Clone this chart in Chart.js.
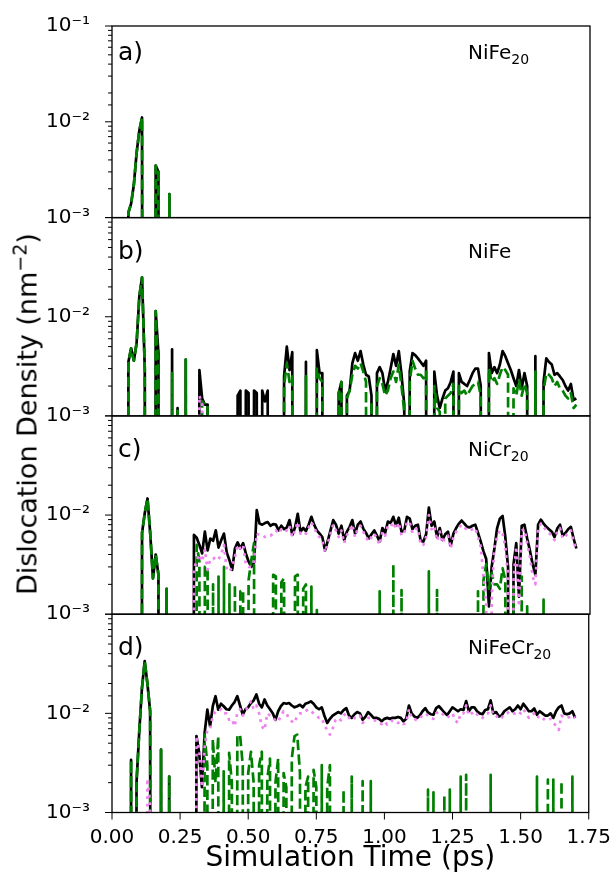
<!DOCTYPE html>
<html>
<head>
<meta charset="utf-8">
<script src="https://cdn.jsdelivr.net/npm/chart.js@4.4.1/dist/chart.umd.min.js"></script>
<style>
  body { margin: 0; background: #fff; }
  #wrap { position: relative; width: 616px; height: 877px; font-family: "DejaVu Sans", sans-serif; color: #000; }
  canvas { position: absolute; left: 0; top: 0; }
  .tag { position: absolute; left: 118px; font-size: 25px; line-height: 25px; }
  .mat { position: absolute; left: 468px; font-size: 20px; line-height: 20px; white-space: nowrap; }
  .mat sub { font-size: 14px; vertical-align: -5px; line-height: 0; }
  #ytitle { position: absolute; left: 27px; top: 414px; font-size: 27px; line-height: 27px; white-space: nowrap;
            transform: translate(-50%, -50%) rotate(-90deg); }
  #ytitle sup { font-size: 19px; vertical-align: 10px; line-height: 0; }
</style>
</head>
<body>
<div id="wrap">
  <canvas id="c0" width="616" height="877"></canvas>
  <canvas id="c1" width="616" height="877"></canvas>
  <canvas id="c2" width="616" height="877"></canvas>
  <canvas id="c3" width="616" height="877"></canvas>
  <div class="tag" style="top:39px">a)</div>
  <div class="tag" style="top:238px">b)</div>
  <div class="tag" style="top:436px">c)</div>
  <div class="tag" style="top:634px">d)</div>
  <div class="mat" style="top:42px">NiFe<sub>20</sub></div>
  <div class="mat" style="top:241px">NiFe</div>
  <div class="mat" style="top:439px">NiCr<sub>20</sub></div>
  <div class="mat" style="top:637px">NiFeCr<sub>20</sub></div>
  <div id="ytitle">Dislocation Density (nm<sup>−2</sup>)</div>
</div>
<script>
// dislocation density per frame, in units of 1e-3 nm^-2, one frame every 0.01 ps (0.00 .. 1.70)
// black = total, green dashed = Shockley partials, violet dotted = stair-rod
const T_STEP = 0.01;

const nife20Total = [
/*0.00*/ 0,0,0,0,0,0,1.13,1.4,2.2,4.7,
/*0.10*/ 8.1,11.1,0,0,0,0,3.5,3.0,0,0,
/*0.20*/ 0,1.76,0,0,0,0,0,0,0,0,
/*0.30*/ 0,0,0,0,0,0,0,0,0,0,
/*0.40*/ 0,0,0,0,0,0,0,0,0,0,
/*0.50*/ 0,0,0,0,0,0,0,0,0,0,
/*0.60*/ 0,0,0,0,0,0,0,0,0,0,
/*0.70*/ 0,0,0,0,0,0,0,0,0,0,
/*0.80*/ 0,0,0,0,0,0,0,0,0,0,
/*0.90*/ 0,0,0,0,0,0,0,0,0,0,
/*1.00*/ 0,0,0,0,0,0,0,0,0,0,
/*1.10*/ 0,0,0,0,0,0,0,0,0,0,
/*1.20*/ 0,0,0,0,0,0,0,0,0,0,
/*1.30*/ 0,0,0,0,0,0,0,0,0,0,
/*1.40*/ 0,0,0,0,0,0,0,0,0,0,
/*1.50*/ 0,0,0,0,0,0,0,0,0,0,
/*1.60*/ 0,0,0,0,0,0,0,0,0,0,
/*1.70*/ 0
];
const nife20Shockley = [
/*0.00*/ 0,0,0,0,0,0,1.13,1.4,2.2,4.7,
/*0.10*/ 8.1,11.1,0,0,0,0,3.5,3.0,0,0,
/*0.20*/ 0,1.76,0,0,0,0,0,0,0,0,
/*0.30*/ 0,0,0,0,0,0,0,0,0,0,
/*0.40*/ 0,0,0,0,0,0,0,0,0,0,
/*0.50*/ 0,0,0,0,0,0,0,0,0,0,
/*0.60*/ 0,0,0,0,0,0,0,0,0,0,
/*0.70*/ 0,0,0,0,0,0,0,0,0,0,
/*0.80*/ 0,0,0,0,0,0,0,0,0,0,
/*0.90*/ 0,0,0,0,0,0,0,0,0,0,
/*1.00*/ 0,0,0,0,0,0,0,0,0,0,
/*1.10*/ 0,0,0,0,0,0,0,0,0,0,
/*1.20*/ 0,0,0,0,0,0,0,0,0,0,
/*1.30*/ 0,0,0,0,0,0,0,0,0,0,
/*1.40*/ 0,0,0,0,0,0,0,0,0,0,
/*1.50*/ 0,0,0,0,0,0,0,0,0,0,
/*1.60*/ 0,0,0,0,0,0,0,0,0,0,
/*1.70*/ 0
];
const nife20StairRod = [
/*0.00*/ 0,0,0,0,0,0,0,0,0,0,
/*0.10*/ 0,0,0,0,0,0,0,0,0,0,
/*0.20*/ 0,0,0,0,0,0,0,0,0,0,
/*0.30*/ 0,0,0,0,0,0,0,0,0,0,
/*0.40*/ 0,0,0,0,0,0,0,0,0,0,
/*0.50*/ 0,0,0,0,0,0,0,0,0,0,
/*0.60*/ 0,0,0,0,0,0,0,0,0,0,
/*0.70*/ 0,0,0,0,0,0,0,0,0,0,
/*0.80*/ 0,0,0,0,0,0,0,0,0,0,
/*0.90*/ 0,0,0,0,0,0,0,0,0,0,
/*1.00*/ 0,0,0,0,0,0,0,0,0,0,
/*1.10*/ 0,0,0,0,0,0,0,0,0,0,
/*1.20*/ 0,0,0,0,0,0,0,0,0,0,
/*1.30*/ 0,0,0,0,0,0,0,0,0,0,
/*1.40*/ 0,0,0,0,0,0,0,0,0,0,
/*1.50*/ 0,0,0,0,0,0,0,0,0,0,
/*1.60*/ 0,0,0,0,0,0,0,0,0,0,
/*1.70*/ 0
];

const nifeTotal = [
/*0.00*/ 0,0,0,0,0,0,3.5,4.8,3.6,5.4,
/*0.10*/ 16,25,3.0,0,0,0,11.4,4.3,0,0,
/*0.20*/ 0,0,4.7,0,1.2,0,0,3.7,0,0,
/*0.30*/ 0,0,2.9,1.5,1.3,1.3,0,0,0,0,
/*0.40*/ 0,0,0,0,0,0,1.6,1.8,0,1.8,
/*0.50*/ 1.7,0,1.8,1.7,0,1.8,1.4,1.8,0,0,
/*0.60*/ 0,0,0,2.5,5.0,2.9,4.4,0,0,0,
/*0.70*/ 0,3.5,0,0,0,4.6,2.7,2.7,0,0,
/*0.80*/ 0,0,0,1.7,2.2,0,1.6,1.8,3.4,4.3,
/*0.90*/ 3.6,4.5,3.3,2.6,2.5,1.6,0,2.7,3.1,2.7,
/*1.00*/ 1.8,2.2,3.0,4.2,3.2,4.5,2.6,1.3,0,2.8,
/*1.10*/ 4.3,4.1,3.8,3.5,3.2,3.6,0,0,2.8,1.6,
/*1.20*/ 1.2,1.5,1.8,1.9,2.2,2.8,0,2.7,2.2,2.1,
/*1.30*/ 2.0,2.3,2.7,3.0,3.0,2.0,0,0,4.3,2.7,
/*1.40*/ 3.1,2.7,3.3,4.5,4.0,3.4,2.9,2.4,2.0,2.9,
/*1.50*/ 1.9,2.7,2.0,0,0,4.0,0,0,2.2,3.8,
/*1.60*/ 3.5,3.3,2.6,2.7,2.5,2.3,2.0,1.8,2.1,1.45,
/*1.70*/ 1.5
];
const nifeShockley = [
/*0.00*/ 0,0,0,0,0,0,3.5,4.8,3.6,5.4,
/*0.10*/ 16,25,3.0,0,0,0,11.4,2.5,0,0,
/*0.20*/ 0,0,2.7,0,1.2,0,0,3.7,0,0,
/*0.30*/ 0,0,0,1.4,1.3,1.3,0,0,0,0,
/*0.40*/ 0,0,0,0,0,0,0,0,0,0,
/*0.50*/ 0,0,0,0,0,0,0,0,0,0,
/*0.60*/ 0,0,0,2.0,3.4,2.2,2.5,0,0,0,
/*0.70*/ 0,2.5,0,0,0,3.0,2.4,2.2,0,0,
/*0.80*/ 0,0,0,1.7,2.2,0,1.5,1.8,2.6,3.2,
/*0.90*/ 3.0,3.4,2.8,2.2,0,1.4,0,2.0,2.4,2.1,
/*1.00*/ 1.6,1.8,2.4,2.8,2.2,3.3,2.0,1.1,0,2.2,
/*1.10*/ 3.6,3.0,2.6,2.6,2.4,2.8,0,0,2.0,1.2,
/*1.20*/ 1.1,0,1.5,1.6,1.7,2.1,0,2.0,1.7,1.8,
/*1.30*/ 1.6,1.8,2.0,2.1,2.2,1.6,0,0,3.0,2.2,
/*1.40*/ 2.4,2.1,2.6,3.1,2.9,2.6,0,1.9,1.6,2.3,
/*1.50*/ 1.6,2.1,1.7,0,0,2.8,0,0,1.8,2.7,
/*1.60*/ 2.6,2.4,2.0,2.2,1.9,1.8,1.6,1.5,1.7,1.2,
/*1.70*/ 1.3
];
const nifeStairRod = [
/*0.00*/ 0,0,0,0,0,0,0,0,0,0,
/*0.10*/ 0,0,0,0,0,0,0,0,0,0,
/*0.20*/ 0,0,0,0,0,0,0,0,0,0,
/*0.30*/ 0,0,1.6,1.3,0,0,0,0,0,0,
/*0.40*/ 0,0,0,0,0,0,0,0,0,0,
/*0.50*/ 0,0,0,0,0,0,0,0,0,0,
/*0.60*/ 0,0,0,0,0,0,0,0,0,0,
/*0.70*/ 0,0,0,0,0,0,0,0,0,0,
/*0.80*/ 0,0,0,0,0,0,0,0,0,0,
/*0.90*/ 0,0,0,0,0,0,0,0,0,0,
/*1.00*/ 0,0,0,0,0,0,0,0,0,0,
/*1.10*/ 0,0,0,0,0,0,0,0,0,0,
/*1.20*/ 0,0,0,0,0,0,0,0,0,0,
/*1.30*/ 0,0,0,0,0,0,0,0,0,0,
/*1.40*/ 0,0,0,0,0,0,0,0,0,0,
/*1.50*/ 0,0,0,0,0,0,0,0,0,0,
/*1.60*/ 0,0,0,0,0,0,0,0,0,0,
/*1.70*/ 0
];

const nicr20Total = [
/*0.00*/ 0,0,0,0,0,0,0,0,0,0,
/*0.10*/ 0,6.6,10.5,14.7,6.5,2.3,4.0,2.5,0,0,
/*0.20*/ 1.8,0,0,0,0,0,0,0,0,0,
/*0.30*/ 6.3,5.9,5.0,4.1,6.8,4.4,5.8,5.5,7.0,4.7,
/*0.40*/ 5.6,6.5,4.2,3.5,2.8,4.6,5.3,4.6,5.2,4.1,
/*0.50*/ 3.4,3.0,3.3,11.2,8.2,8.0,8.3,8.5,7.8,8.1,
/*0.60*/ 8.0,7.0,7.8,7.2,7.5,8.9,6.3,7.5,10.3,6.8,
/*0.70*/ 7.4,6.9,8.0,9.6,8.0,7.0,6.5,6.0,4.4,5.5,
/*0.80*/ 7.0,8.9,8.0,6.5,7.8,5.6,6.8,7.6,8.9,6.5,
/*0.90*/ 8.0,8.6,7.3,6.6,5.8,6.4,7.0,6.2,5.4,7.4,
/*1.00*/ 6.6,8.6,8.3,9.6,7.8,9.4,6.8,7.0,9.6,9.2,
/*1.10*/ 7.2,7.8,8.0,5.5,5.4,6.4,11.9,7.8,8.6,6.0,
/*1.20*/ 7.4,5.6,6.4,6.8,4.9,6.5,7.4,8.2,8.8,8.2,
/*1.30*/ 7.6,7.5,7.8,8.0,6.6,5.4,4.3,3.6,1.2,3.0,
/*1.40*/ 4.6,7.4,9.2,9.8,6.0,3.0,0,3.2,5.2,1.5,
/*1.50*/ 7.8,8.0,5.8,4.4,3.2,2.5,8.0,9.0,8.2,7.6,
/*1.60*/ 7.2,6.8,6.0,7.3,8.0,6.2,6.6,7.2,7.6,5.8,
/*1.70*/ 4.6
];
const nicr20Shockley = [
/*0.00*/ 0,0,0,0,0,0,0,0,0,0,
/*0.10*/ 0,6.6,10.5,14.7,6.5,2.3,4.0,2.5,0,0,
/*0.20*/ 1.8,0,0,0,0,0,0,0,0,0,
/*0.30*/ 0,5.0,3.4,0,3.0,2.9,0,2.0,0,2.4,
/*0.40*/ 0,3.0,0,2.0,0,2.0,0,1.7,1.75,0,
/*0.50*/ 2.2,3.5,5.2,0,0,0,0,0,0,2.5,
/*0.60*/ 2.4,0,2.1,2.3,0,0,0,2.4,2.5,0,
/*0.70*/ 1.8,2.0,0,1.9,0,1.1,0,0,0,0,
/*0.80*/ 0,0,0,0,0,0,0,0,0,0,
/*0.90*/ 0,0,0,0,0,0,0,0,1.7,0,
/*1.00*/ 0,0,0,3.2,0,0,1.75,0,0,0,
/*1.10*/ 0,0,0,0,0,0,2.7,0,0,1.75,
/*1.20*/ 0,0,0,0,0,0,0,0,0,0,
/*1.30*/ 0,0,0,0,1.7,0,2.2,3.2,1.8,2.6,
/*1.40*/ 2.0,2.0,1.8,2.9,2.2,0,0,1.9,0,0,
/*1.50*/ 2.4,0,1.2,0,0,0,0,0,1.4,0,
/*1.60*/ 0,0,0,0,0,0,0,0,0,0,
/*1.70*/ 0
];
const nicr20StairRod = [
/*0.00*/ 0,0,0,0,0,0,0,0,0,0,
/*0.10*/ 0,0,0,0,0,0,0,0,0,0,
/*0.20*/ 0,0,0,0,0,0,0,0,0,0,
/*0.30*/ 2.8,3.5,4.0,3.4,4.5,2.8,3.6,3.6,3.8,3.6,
/*0.40*/ 4.0,5.0,2.8,2.7,3.0,3.8,5.0,4.6,5.0,3.2,
/*0.50*/ 3.0,3.0,3.4,6.5,6.3,6.3,6.0,6.2,6.2,6.5,
/*0.60*/ 7.0,6.5,7.2,6.8,7.0,7.8,6.0,7.0,8.5,6.5,
/*0.70*/ 6.8,6.5,7.5,8.5,7.5,6.5,6.0,5.5,4.2,5.2,
/*0.80*/ 6.5,8.0,7.0,6.0,7.0,5.2,6.3,7.0,8.0,6.0,
/*0.90*/ 7.4,7.8,6.8,6.0,5.4,6.0,6.5,5.8,5.0,6.8,
/*1.00*/ 6.2,7.8,7.6,8.5,7.2,8.4,6.2,6.5,8.6,8.4,
/*1.10*/ 6.6,7.2,7.4,5.0,5.0,6.0,10.0,7.2,7.8,5.5,
/*1.20*/ 6.8,5.2,6.0,6.2,4.6,6.0,6.8,7.5,8.0,7.6,
/*1.30*/ 7.0,7.0,7.2,7.4,6.0,4.8,2.4,1.3,0,1.5,
/*1.40*/ 4.8,6.0,7.0,6.5,4.8,2.5,0,2.2,4.8,1.2,
/*1.50*/ 7.0,7.2,5.2,3.8,2.4,2.0,7.2,8.2,7.6,7.0,
/*1.60*/ 6.6,6.2,5.6,6.8,7.4,5.8,6.0,6.8,7.0,5.4,
/*1.70*/ 4.5
];

const nifecr20Total = [
/*0.00*/ 0,0,0,0,0,0,0,3.4,0,2.0,
/*0.10*/ 6.5,18,33.6,20,10.5,0,0,0,4.3,0,
/*0.20*/ 0,2.3,0,0,0,0,0,0,0,0,
/*0.30*/ 0,5.9,4.0,1.8,6.3,10.9,7.4,11.8,14.9,10.9,
/*0.40*/ 12.5,11.8,11.0,10.9,12.0,13.0,14.9,12.0,9.7,11.0,
/*0.50*/ 11.5,12.7,13.5,15.5,12.5,11.5,13.8,12.0,11.0,10.0,
/*0.60*/ 8.6,10.5,11.8,12.7,12.5,12.7,12.0,11.5,11.8,12.2,
/*0.70*/ 11.5,12.5,12.8,13.2,12.5,11.5,11.0,11.5,9.4,8.0,
/*0.80*/ 8.8,9.5,9.9,10.3,10.0,10.8,11.3,9.5,9.0,9.8,
/*0.90*/ 10.3,10.0,8.6,9.2,10.3,9.7,9.0,9.0,8.8,8.3,
/*1.00*/ 8.8,9.0,8.8,9.0,9.0,9.2,9.0,8.3,8.8,12.0,
/*1.10*/ 10.0,9.3,9.0,9.5,10.5,11.3,10.2,9.8,9.7,11.3,
/*1.20*/ 11.8,11.0,10.2,9.6,10.5,11.5,11.0,10.5,11.0,10.8,
/*1.30*/ 13.3,10.5,11.5,11.5,10.5,10.0,9.8,10.8,11.0,13.5,
/*1.40*/ 10.0,10.3,9.3,9.5,10.5,11.0,11.5,10.5,11.0,12.0,
/*1.50*/ 11.0,12.5,11.5,10.5,10.5,11.2,9.7,10.5,10.0,9.5,
/*1.60*/ 9.5,10.0,9.0,10.5,11.5,12.0,10.0,9.8,10.0,10.5,
/*1.70*/ 9.0
];
const nifecr20Shockley = [
/*0.00*/ 0,0,0,0,0,0,0,3.4,0,2.0,
/*0.10*/ 6.5,18,33.6,20,10.5,0,0,0,4.3,0,
/*0.20*/ 0,2.3,0,0,0,0,0,0,0,0,
/*0.30*/ 0,0,0,0,6.1,3.0,0,5.5,2.0,5.9,
/*0.40*/ 0,2.6,0,4.0,2.0,0,5.9,6.1,3.0,0,
/*0.50*/ 2.5,4.1,2.0,0,3.0,4.1,0,2.2,3.5,0,
/*0.60*/ 2.0,3.5,0,2.5,1.8,0,3.5,5.9,6.1,2.5,
/*0.70*/ 0,1.8,2.3,0,2.7,1.8,0,3.0,0,1.8,
/*0.80*/ 3.0,0,0,0,0,1.7,0,0,2.3,0,
/*0.90*/ 0,0,2.07,0,0,2.07,0,0,0,0,
/*1.00*/ 0,0,0,0,0,0,0,0,0,0,
/*1.10*/ 0,0,0,0,0,0,1.7,0,1.6,0,
/*1.20*/ 0,0,1.46,0,1.7,0,0,0,2.3,0,
/*1.30*/ 2.4,0,0,0,0,0,0,0,0,2.4,
/*1.40*/ 0,0,0,0,0,0,0,0,0,0,
/*1.50*/ 0,0,0,0,0,0,2.3,0,0,0,
/*1.60*/ 2.15,0,2.15,0,0,2.07,0,0,0,2.3,
/*1.70*/ 0
];
const nifecr20StairRod = [
/*0.00*/ 0,0,0,0,0,0,0,0,0,0,
/*0.10*/ 0,0,0,2.2,1.2,0,0,0,0,0,
/*0.20*/ 0,0,0,0,0,0,0,0,0,0,
/*0.30*/ 0,5.9,4.3,1.8,4.5,6.9,7.0,9.4,10.5,10.5,
/*0.40*/ 11.0,10.0,10.0,8.6,8.8,7.4,10.0,11.0,9.5,10.5,
/*0.50*/ 12.0,13.2,11.0,12.0,10.0,7.4,6.8,10.0,9.5,9.0,
/*0.60*/ 8.5,8.2,9.5,10.5,10.0,8.8,8.3,8.0,9.5,10.0,
/*0.70*/ 10.0,10.5,11.0,10.5,10.0,9.5,9.0,9.0,7.5,6.8,
/*0.80*/ 6.1,7.0,8.5,9.0,8.5,9.5,10.0,9.0,8.5,9.0,
/*0.90*/ 9.0,9.5,8.0,8.5,9.0,9.0,8.5,8.5,8.0,7.8,
/*1.00*/ 8.3,7.7,8.0,8.5,8.5,8.0,8.3,7.8,8.0,11.0,
/*1.10*/ 9.0,8.8,8.5,9.0,9.5,10.0,9.5,9.0,8.8,10.0,
/*1.20*/ 10.5,10.0,9.5,9.0,9.5,10.0,8.5,8.0,10.0,10.0,
/*1.30*/ 12.0,9.5,10.0,10.5,9.8,9.0,9.0,9.8,10.0,12.0,
/*1.40*/ 9.5,9.5,8.8,9.0,9.8,10.0,10.5,10.0,10.0,10.5,
/*1.50*/ 10.0,11.0,10.0,9.0,9.5,10.0,9.0,9.5,9.0,8.5,
/*1.60*/ 8.5,8.8,8.0,7.5,6.8,9.5,9.0,9.0,9.2,9.5,
/*1.70*/ 9.0
];

const xTicks = [0, 0.25, 0.5, 0.75, 1.0, 1.25, 1.5, 1.75];
const yLabels = { '-1': '10⁻¹', '-2': '10⁻²', '-3': '10⁻³' };

// page layout (px)
const W = 616, H = 877;
const PLOT_LEFT = 112, PLOT_RIGHT = 590;
const PANEL_TOPS = [19.3, 217.6, 415.9, 614.2];
const PANEL_H = 198.3;
const FONT = '"DejaVu Sans", sans-serif';

// like matplotlib's log axis: zero density is clipped far below the frame,
// so the line drops (almost) vertically out of the panel
function toPoints(series) {
  return series.map((v, i) => ({ x: i * T_STEP, y: v > 0 ? v * 1e-3 : 1e-30 }));
}

function lineSet(series, color, dash) {
  return {
    data: toPoints(series),
    borderColor: color,
    borderWidth: 2.7,
    borderDash: dash,
    borderJoinStyle: 'round',
    pointRadius: 0,
    fill: false,
    tension: 0
  };
}

function isDecade(v) {
  const lg = Math.log10(v);
  return Math.abs(lg - Math.round(lg)) < 1e-6;
}

// frame + outward tick marks (long for decades, short for minor)
const framePlugin = {
  id: 'frame',
  afterDraw(chart) {
    const { ctx, chartArea: a, scales } = chart;
    ctx.save();
    ctx.strokeStyle = '#000';
    ctx.lineWidth = 1;
    ctx.beginPath();
    scales.y.ticks.forEach(t => {
      const y = scales.y.getPixelForValue(t.value);
      const len = isDecade(t.value) ? 7 : 4;
      ctx.moveTo(a.left - len, y);
      ctx.lineTo(a.left, y);
    });
    if (scales.x.options.display) {
      scales.x.ticks.forEach(t => {
        const x = scales.x.getPixelForValue(t.value);
        ctx.moveTo(x, a.bottom);
        ctx.lineTo(x, a.bottom + 7);
      });
    }
    ctx.stroke();
    ctx.lineWidth = 1.3;
    ctx.strokeRect(a.left, a.top, a.right - a.left, a.bottom - a.top);
    ctx.restore();
  }
};

function makePanel(k, total, shockley, stairRod) {
  const top = PANEL_TOPS[k];
  const bottom = top + PANEL_H;
  const isLast = k === PANEL_TOPS.length - 1;
  const showTop = k === 0;

  new Chart(document.getElementById('c' + k), {
    type: 'line',
    data: {
      // first dataset is drawn last (on top)
      datasets: [
        lineSet(stairRod, 'violet', [2.8, 4.6]),
        lineSet(shockley, 'green', [10.3, 4.4]),
        lineSet(total, 'black', [])
      ]
    },
    options: {
      responsive: false,
      animation: false,
      devicePixelRatio: 1,
      events: [],
      layout: { padding: { left: 0, right: W - PLOT_RIGHT, top: top, bottom: isLast ? 0 : H - bottom } },
      plugins: { legend: { display: false }, tooltip: { enabled: false } },
      scales: {
        x: {
          type: 'linear',
          min: 0,
          max: 1.75,
          display: isLast,
          grid: { display: false },
          border: { display: false },
          afterBuildTicks: s => { s.ticks = xTicks.map(v => ({ value: v })); },
          afterFit: s => { s.height = isLast ? H - bottom : 0; },
          ticks: {
            autoSkip: false,
            maxRotation: 0,
            padding: 5,
            color: '#000',
            font: { family: FONT, size: 20 },
            callback: v => Number(v).toFixed(2)
          },
          title: {
            display: true,
            text: 'Simulation Time (ps)',
            color: '#000',
            font: { family: FONT, size: 28 },
            padding: { top: 0, bottom: 1 }
          }
        },
        y: {
          type: 'logarithmic',
          min: 1e-3,
          max: 1e-1,
          grid: { display: false },
          border: { display: false },
          afterFit: s => { s.width = PLOT_LEFT; },
          ticks: {
            autoSkip: false,
            padding: 14,
            color: '#000',
            font: { family: FONT, size: 20 },
            callback: v => {
              if (!isDecade(v)) return '';
              const e = Math.round(Math.log10(v));
              if (e === -1 && !showTop) return '';
              return yLabels[e];
            }
          }
        }
      }
    },
    plugins: [framePlugin]
  });
}

makePanel(0, nife20Total, nife20Shockley, nife20StairRod);
makePanel(1, nifeTotal, nifeShockley, nifeStairRod);
makePanel(2, nicr20Total, nicr20Shockley, nicr20StairRod);
makePanel(3, nifecr20Total, nifecr20Shockley, nifecr20StairRod);
</script>
</body>
</html>
